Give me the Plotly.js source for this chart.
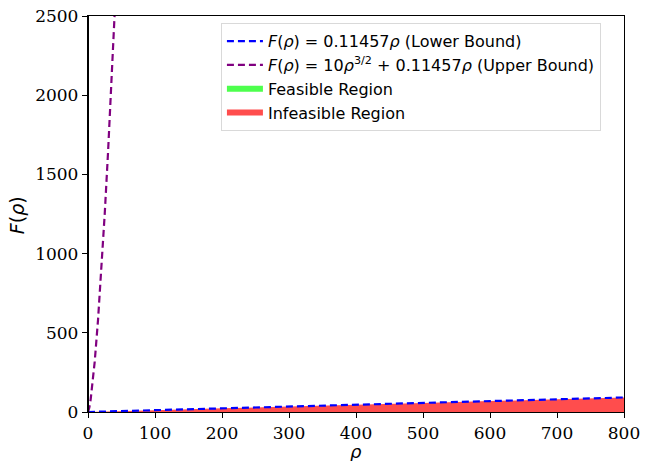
<!DOCTYPE html>
<html><head><meta charset="utf-8">
<script src="https://cdn.plot.ly/plotly-3.0.1.min.js"></script>
<style>body{margin:0;padding:0;background:#fff}#chart{width:652px;height:461px}</style>
</head><body><div id="chart"></div>
<script>
// values
const rhoLower = [0, 100, 200, 300, 400, 500, 600, 700, 800];
const fLower   = [0, 11.5, 22.9, 34.4, 45.8, 57.3, 68.7, 80.2, 91.7];
const rhoUpper = [0, 2, 4, 6, 8, 10, 15, 20, 25, 30, 35, 40];
const fUpper   = [0, 28, 80, 148, 227, 317, 583, 897, 1253, 1647, 2075, 2534];
const xTicks = [0, 100, 200, 300, 400, 500, 600, 700, 800];
const yTicks = [0, 500, 1000, 1500, 2000, 2500];

const data = [
  {x: rhoLower.concat(rhoLower.slice().reverse()), y: fLower.concat(rhoLower.map(() => 0)),
   mode: 'none', fill: 'toself', fillcolor: '#ff4d4d', name: 'Infeasible Region', legendrank: 4},
  {x: rhoLower, y: fLower, mode: 'lines', line: {color: 'blue', width: 2.2, dash: '7px,4px'},
   name: '<i>F</i>(<i>ρ</i>) = 0.11457<i>ρ</i> (Lower Bound)', legendrank: 1},
  {x: rhoUpper, y: fUpper, mode: 'lines', line: {color: 'purple', width: 2.2, dash: '7px,4px'},
   name: '<i>F</i>(<i>ρ</i>) = 10<i>ρ</i><sup>3/2</sup> + 0.11457<i>ρ</i> (Upper Bound)', legendrank: 2},
  {x: [null], y: [null], mode: 'none', fill: 'toself', fillcolor: '#4dff4d', name: 'Feasible Region', legendrank: 3}
];

const layout = {
  width: 652, height: 461,
  margin: {l: 88, r: 28, t: 16, b: 49},
  paper_bgcolor: '#fff', plot_bgcolor: '#fff',
  showlegend: true,
  legend: {x: 0.248, y: 0.982, xanchor: 'left', yanchor: 'top',
    bgcolor: 'rgba(255,255,255,0.8)', bordercolor: '#d9d9d9', borderwidth: 1,
    font: {family: 'DejaVu Sans', size: 16, color: '#000'},
    traceorder: 'normal', itemwidth: 36},
  xaxis: {range: [0, 800], tickvals: xTicks, ticktext: xTicks.map(String),
    showgrid: false, zeroline: false, showline: true, mirror: true, linecolor: '#000', linewidth: 1.2,
    ticks: 'outside', ticklen: 5, tickcolor: '#000',
    tickfont: {family: 'DejaVu Serif', size: 17, color: '#000'}},
  yaxis: {range: [0, 2500], tickvals: yTicks, ticktext: yTicks.map(String),
    showgrid: false, zeroline: false, showline: true, mirror: true, linecolor: '#000', linewidth: 1.2,
    ticks: 'outside', ticklen: 5, tickcolor: '#000',
    tickfont: {family: 'DejaVu Serif', size: 17, color: '#000'}},
  annotations: [
    {text: '<i>ρ</i>', xref: 'paper', yref: 'paper', x: 0.5, y: 0, yshift: -39, xanchor: 'center', yanchor: 'middle',
     showarrow: false, font: {family: 'DejaVu Sans', size: 18, color: '#000'}},
    {text: '<i>F</i>(<i>ρ</i>)', xref: 'paper', yref: 'paper', x: 0, xshift: -71, y: 0.497, xanchor: 'center', yanchor: 'middle',
     textangle: -90, showarrow: false, font: {family: 'DejaVu Sans', size: 19, color: '#000'}}
  ],
  shapes: [{type: 'line', xref: 'x', yref: 'paper', x0: 0, x1: 0, y0: 0, y1: 1, line: {color: '#000', width: 2}}]
};
Plotly.newPlot('chart', data, layout, {displayModeBar: false, staticPlot: true});
</script></body></html>
